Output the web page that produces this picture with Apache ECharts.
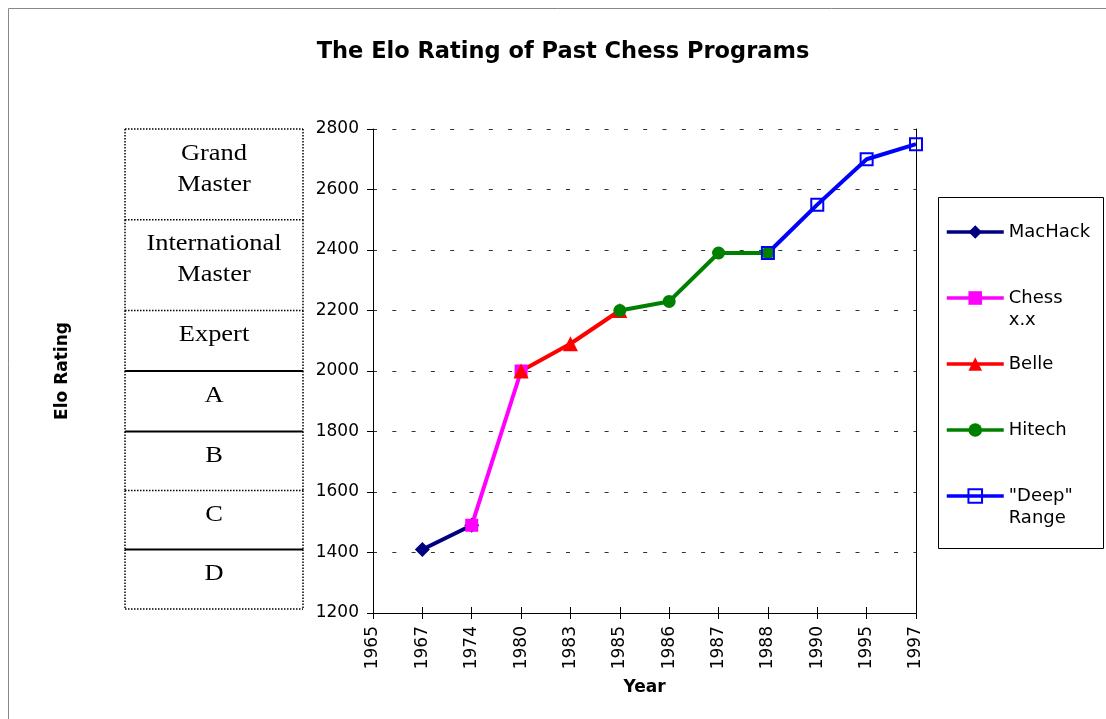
<!DOCTYPE html>
<html>
<head>
<meta charset="utf-8">
<script src="https://cdn.jsdelivr.net/npm/echarts@6/dist/echarts.min.js"></script>
<style>html,body{margin:0;padding:0;background:#fff;}#c{width:1106px;height:719px;}</style>
</head>
<body>
<div id="c"></div>
<script>
// ---- data ----
const years = ['1965','1967','1974','1980','1983','1985','1986','1987','1988','1990','1995','1997'];
const macHack = [null, 1410, 1490, null, null, null, null, null, null, null, null, null];
const chessXX = [null, null, 1490, 2000, null, null, null, null, null, null, null, null];
const belle   = [null, null, null, 2000, 2090, 2200, null, null, null, null, null, null];
const hitech  = [null, null, null, null, null, 2200, 2230, 2390, 2390, null, null, null];
const deep    = [null, null, null, null, null, null, null, null, 2390, 2550, 2700, 2750];
const seriesNames = ['MacHack', 'Chess x.x', 'Belle', 'Hitech', '"Deep" Range'];
const legendLines = { 'MacHack': 'MacHack', 'Chess x.x': 'Chess\nx.x', 'Belle': 'Belle', 'Hitech': 'Hitech', '"Deep" Range': '"Deep"\nRange' };
const classNames  = ['Grand\nMaster', 'International\nMaster', 'Expert', 'A', 'B', 'C', 'D'];
const classTop    = [2800, 2500, 2200, 2000, 1800, 1605, 1410];
const classBottom = [2500, 2200, 2000, 1800, 1605, 1410, 1213];
const yTicks = { min: 1200, max: 2800, interval: 200 };

// ---- styles ----
const topEdgeStyle = ['dot', 'dot', 'dot', 'solid', 'solid', 'dot', 'solid'];
const dotStyle = { stroke: '#000', lineWidth: 1.5, lineDash: [1.5, 1.5], fill: null };
const solidStyle = { stroke: '#000', lineWidth: 2, fill: null };
const sans = 'DejaVu Sans';

const chart = echarts.init(document.getElementById('c'));

function mkLine(name, data, color, symbol, size, extra) {
  return Object.assign({
    name: name, type: 'line', data: data,
    xAxisIndex: 0, yAxisIndex: 0,
    symbol: symbol, symbolSize: size,
    lineStyle: { color: color, width: 4 },
    itemStyle: { color: color },
    emphasis: { disabled: true },
    animation: false
  }, extra || {});
}

function renderClass(params, api) {
  const i = params.dataIndex;
  const p1 = api.coord([0, api.value(0)]);
  const p2 = api.coord([1, api.value(1)]);
  const x0 = p1[0], y0 = p1[1], x1 = p2[0], y1 = p2[1];
  const children = [
    { type: 'line', shape: { x1: x0, y1: y0, x2: x1, y2: y0 }, style: topEdgeStyle[i] === 'dot' ? dotStyle : solidStyle },
    { type: 'line', shape: { x1: x0, y1: y0, x2: x0, y2: y1 }, style: dotStyle },
    { type: 'line', shape: { x1: x1, y1: y0, x2: x1, y2: y1 }, style: dotStyle },
    { type: 'text', x: (x0 + x1) / 2, y: y0 + 9, scaleX: 1.15,
      style: { text: classNames[i], fontFamily: 'Liberation Serif', fontSize: 23, lineHeight: 31,
               align: 'center', verticalAlign: 'top', fill: '#000' } }
  ];
  if (i === classNames.length - 1) {
    children.push({ type: 'line', shape: { x1: x0, y1: y1, x2: x1, y2: y1 }, style: dotStyle });
  }
  return { type: 'group', children: children };
}

const option = {
  backgroundColor: '#fff',
  animation: false,
  title: {
    text: 'The Elo Rating of Past Chess Programs',
    left: 563, top: 41, padding: 0, textAlign: 'center',
    textStyle: { fontFamily: sans, fontWeight: 'bold', fontSize: 22.5, color: '#000' }
  },
  legend: {
    orient: 'vertical', left: 945, top: 199, padding: 0, itemGap: 0,
    itemWidth: 57, itemHeight: 17, selectedMode: false,
    data: seriesNames,
    lineStyle: { width: 3.5 },
    formatter: function (n) {
      const t = legendLines[n];
      return t.indexOf('\n') >= 0 ? '\u00a0\n' + t : '\u00a0\n' + t + '\n\u00a0';
    },
    textStyle: { fontFamily: sans, fontSize: 18, lineHeight: 22, color: '#000' }
  },
  graphic: [
    { type: 'rect', shape: { x: 938.5, y: 197.5, width: 165, height: 351 }, style: { fill: null, stroke: '#000', lineWidth: 1 }, silent: true },
    { type: 'line', shape: { x1: 8.5, y1: 8.5, x2: 8.5, y2: 719 }, style: { stroke: '#888', lineWidth: 1 }, silent: true },
    { type: 'line', shape: { x1: 8.5, y1: 8.5, x2: 1106, y2: 8.5 }, style: { stroke: '#888', lineWidth: 1 }, silent: true }
  ],
  grid: [
    { left: 373, right: 190, top: 129, bottom: 106, containLabel: false },
    { left: 125, width: 178, top: 129, bottom: 106, containLabel: false }
  ],
  xAxis: [
    {
      type: 'category', gridIndex: 0, data: years, boundaryGap: false,
      name: 'Year', nameLocation: 'middle', nameGap: 66,
      nameTextStyle: { fontFamily: sans, fontWeight: 'bold', fontSize: 17, color: '#000' },
      axisLine: { lineStyle: { color: '#000', width: 1 } },
      axisTick: { show: true, length: 6, interval: 0, alignWithLabel: true, lineStyle: { color: '#000' } },
      axisLabel: { interval: 0, rotate: 90, margin: 13, fontFamily: sans, fontSize: 17, color: '#000' },
      splitLine: { show: false }
    },
    { type: 'value', gridIndex: 1, min: 0, max: 1, show: false },
    {
      type: 'category', gridIndex: 0, data: years, boundaryGap: false, position: 'bottom',
      axisLine: { show: false },
      axisTick: { show: true, inside: true, length: 6, interval: 0, lineStyle: { color: '#000' } },
      axisLabel: { show: false }, splitLine: { show: false }
    }
  ],
  yAxis: [
    {
      type: 'value', gridIndex: 0, min: yTicks.min, max: yTicks.max, interval: yTicks.interval,
      name: 'Elo Rating', nameLocation: 'middle', nameGap: 302,
      nameTextStyle: { fontFamily: sans, fontWeight: 'bold', fontSize: 17, color: '#000' },
      axisLine: { show: true, lineStyle: { color: '#000', width: 1 } },
      axisTick: { show: true, length: 6, lineStyle: { color: '#000' } },
      axisLabel: { margin: 14, fontFamily: sans, fontSize: 17, color: '#000', formatter: function (v) { return String(v); } },
      splitLine: { show: true, lineStyle: { color: '#333', type: [4, 15.3], width: 1 } }
    },
    {
      type: 'value', gridIndex: 0, position: 'right', min: yTicks.min, max: yTicks.max, interval: yTicks.interval,
      axisLine: { show: true, lineStyle: { color: '#000', width: 1 } },
      axisTick: { show: false }, axisLabel: { show: false }, splitLine: { show: false }
    },
    { type: 'value', gridIndex: 1, min: yTicks.min, max: yTicks.max, show: false }
  ],
  series: [
    mkLine(seriesNames[0], macHack, '#000080', 'diamond', 15),
    mkLine(seriesNames[1], chessXX, '#FF00FF', 'rect', 13),
    mkLine(seriesNames[2], belle, '#FF0000', 'triangle', 15),
    mkLine(seriesNames[3], hitech, '#008000', 'circle', 13),
    mkLine(seriesNames[4], deep, '#0000FF', 'rect', 12, {
      itemStyle: { color: 'rgba(255,255,255,0)', borderColor: '#0000FF', borderWidth: 2 }
    }),
    {
      type: 'custom', xAxisIndex: 1, yAxisIndex: 2, clip: false, silent: true,
      data: classNames.map(function (n, i) { return [classTop[i], classBottom[i]]; }),
      renderItem: renderClass,
      animation: false
    }
  ]
};
chart.setOption(option);
</script>
</body>
</html>
